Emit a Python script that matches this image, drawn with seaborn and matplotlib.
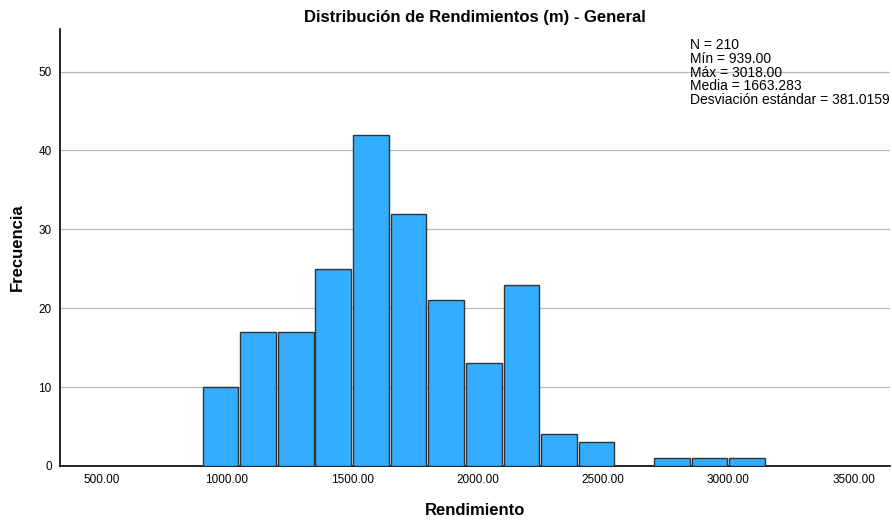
import matplotlib
matplotlib.use("Agg")
import matplotlib.pyplot as plt
import seaborn as sns
import numpy as np

bin_edges = [900, 1050, 1200, 1350, 1500, 1650, 1800, 1950, 2100, 2250, 2400, 2550, 2700, 2850, 3000, 3150]
counts = [10, 17, 17, 25, 42, 32, 21, 13, 23, 4, 3, 0, 1, 1, 1]
x_ticks = [500, 1000, 1500, 2000, 2500, 3000, 3500]
y_ticks = [0, 10, 20, 30, 40, 50]
stats_lines = ["N = 210", "Mín = 939.00", "Máx = 3018.00", "Media = 1663.283", "Desviación estándar = 381.0159"]

sns.set_style("white")
plt.rcParams['font.family'] = ['Liberation Sans', 'DejaVu Sans']
plt.rcParams['text.color'] = 'black'
plt.rcParams['axes.labelcolor'] = 'black'
plt.rcParams['xtick.color'] = 'black'
plt.rcParams['ytick.color'] = 'black'

fig = plt.figure(figsize=(8.92, 5.22), dpi=100)
ax = fig.add_axes([60/892, 1-466/522, 830/892, (466-29)/522])

centers = [(a + b) / 2 for a, b in zip(bin_edges[:-1], bin_edges[1:])]
sns.histplot(x=centers, weights=counts, bins=bin_edges, shrink=0.95,
             color="#33adff", alpha=1, edgecolor="#333333", linewidth=1, ax=ax, zorder=3)

ax.set_xlim(335, 3645)
ax.set_ylim(0, 55.4)
ax.set_xticks(x_ticks)
ax.set_xticklabels([f"{v:.2f}" for v in x_ticks], fontsize=8.5)
ax.set_yticks(y_ticks)
ax.set_yticklabels([str(v) for v in y_ticks], fontsize=8.5)
ax.tick_params(axis='both', length=0, pad=6)
ax.yaxis.grid(True, color="#b8b8b8", linewidth=0.9, zorder=0)
ax.set_axisbelow(True)
for s in ['top', 'right']:
    ax.spines[s].set_visible(False)
for s in ['left', 'bottom']:
    ax.spines[s].set_color('black')
    ax.spines[s].set_linewidth(1.2)

ax.set_title("Distribución de Rendimientos (m) - General", fontsize=12, fontweight='bold', pad=5, color='black')
ax.set_xlabel("Rendimiento", fontsize=12, fontweight='bold', labelpad=12)
ax.set_ylabel("Frecuencia", fontsize=12, fontweight='bold', labelpad=10)

fig.text(690/892, 1-38/522, "\n".join(stats_lines), fontsize=10, va='top', ha='left', linespacing=0.98, color='black')

fig.savefig("out.png", dpi=100)
